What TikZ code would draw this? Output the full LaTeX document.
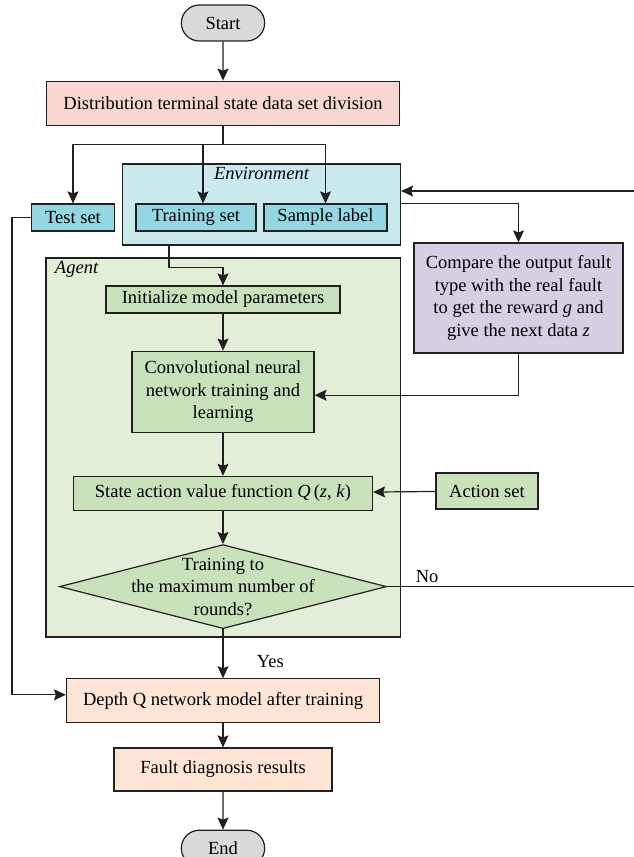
\documentclass[tikz,border=0pt]{standalone}
\usepackage{fontspec}
\setmainfont{Liberation Serif}
\usetikzlibrary{arrows.meta,positioning,shapes.geometric,shapes.misc,calc}

\definecolor{termgray}{RGB}{217,217,220}
\definecolor{splitpink}{RGB}{248,214,210}
\definecolor{resultpeach}{RGB}{253,228,212}
\definecolor{envbg}{RGB}{202,233,237}
\definecolor{setcyan}{RGB}{148,214,225}
\definecolor{agentbg}{RGB}{226,238,216}
\definecolor{stepgreen}{RGB}{200,225,186}
\definecolor{rewardpurple}{RGB}{216,206,226}
\definecolor{inkline}{RGB}{35,31,32}

\begin{document}
\begin{tikzpicture}[
    x=1pt, y=1pt,
    font=\fontsize{18.5}{22.5}\selectfont,
    box/.style={draw=inkline, line width=1.2pt, minimum height=27pt, inner sep=2pt, align=center},
    term/.style={draw=inkline, rounded rectangle, fill=termgray, minimum width=90pt,
                 minimum height=36pt, line width=1.2pt},
    grouplabel/.style={font=\fontsize{18.5}{22.5}\selectfont\itshape},
    conn/.style={draw=inkline, line width=1.2pt},
    arr/.style={conn, -{Stealth[length=12pt, width=11pt, inset=2pt]}},
]
  \useasboundingbox (0,0) rectangle (634,-857);

  % Groups: environment and agent
  \node[box, fill=envbg, minimum width=278pt, minimum height=81pt,
        label={[grouplabel, anchor=north]north:Environment}] (env) at (261.5,-204.5) {};
  \node[box, fill=agentbg, minimum width=354.5pt, minimum height=379pt,
        label={[grouplabel, anchor=north west, xshift=6pt]north west:Agent}] (agent) at (223.3,-447.5) {};

  % Top: start and data division
  \node[term] (start) at (223,-23) {Start};
  \node[box, fill=splitpink, minimum width=353pt, minimum height=44pt, below=39pt of start] (dist)
       {Distribution terminal state data set division};

  % Data sets
  \node[box, fill=setcyan, minimum width=83pt] (test) at (73,-217.5) {Test set};
  \node[box, fill=setcyan, minimum width=120pt] (train) at (196,-217.5) {Training set};
  \node[box, fill=setcyan, minimum width=123pt] (sample) at (325.5,-217.5) {Sample label};

  % Reward
  \node[box, fill=rewardpurple, minimum width=209pt, minimum height=110pt] (cmp) at (518.5,-298)
       {Compare the output fault\\type with the real fault\\to get the reward \textit{g} and\\give the next data \textit{z}};

  % Agent steps
  \node[box, fill=stepgreen, minimum width=234pt] (init) at (223,-299.5) {Initialize model parameters};
  \node[box, fill=stepgreen, minimum width=182pt, minimum height=81pt, below=37pt of init] (cnn)
       {Convolutional neural\\network training and\\learning};
  \node[box, fill=stepgreen, minimum width=299pt, minimum height=34pt, below=43pt of cnn] (qfun)
       {State action value function \textit{Q}\,(\textit{z}, \textit{k})};
  \node[box, fill=stepgreen, minimum width=102pt, minimum height=36pt] (action) at (487,-491) {Action set};
  \node[diamond, draw=inkline, line width=1.2pt, fill=stepgreen, minimum width=327pt, minimum height=84pt,
        inner sep=0pt, below=33pt of qfun,
        label={[align=center]center:Training to\\the maximum number of\\rounds?}] (dia) {};

  % Bottom: results
  \node[box, fill=resultpeach, minimum width=313pt, minimum height=44pt, below=49pt of dia] (depth)
       {Depth Q network model after training};
  \node[box, fill=resultpeach, minimum width=218pt, minimum height=43pt, below=24pt of depth] (fault)
       {Fault diagnosis results};
  \node[term, below=38pt of fault] (end) {End};

  % Arrows
  \draw[arr] (start) -- (dist);
  \draw[conn] (dist.south) -- ++(0,-19) coordinate (split);
  \draw[arr] (split) -| (test.north);
  \draw[arr] (split) -| ([xshift=7pt]train.north);
  \draw[arr] (split) -| (sample.north);
  \draw[arr] (env.east |- sample.north) -| (cmp.north);
  \draw[arr] ([xshift=-92.5pt]env.south) -- ++(0,-22) -| (init.north);
  \draw[arr] (init) -- (cnn);
  \draw[arr] (cmp.south) |- ([yshift=-3.5pt]cnn.east);
  \draw[arr] (cnn) -- (qfun);
  \draw[arr] (action) -- (qfun);
  \draw[arr] (qfun) -- (dia);
  \draw[arr] (dia) -- node[pos=0.65, right=30pt] {Yes} (depth);
  \draw[arr] (dia.east) -- node[pos=0.154, above] {No} ++(260,0) |- ([yshift=13.5pt]env.east);
  \draw[arr] (test.west) -- ++(-19,0) |- ([yshift=6pt]depth.west);
  \draw[arr] (depth) -- (fault);
  \draw[arr] (fault) -- (end);
\end{tikzpicture}
\end{document}
